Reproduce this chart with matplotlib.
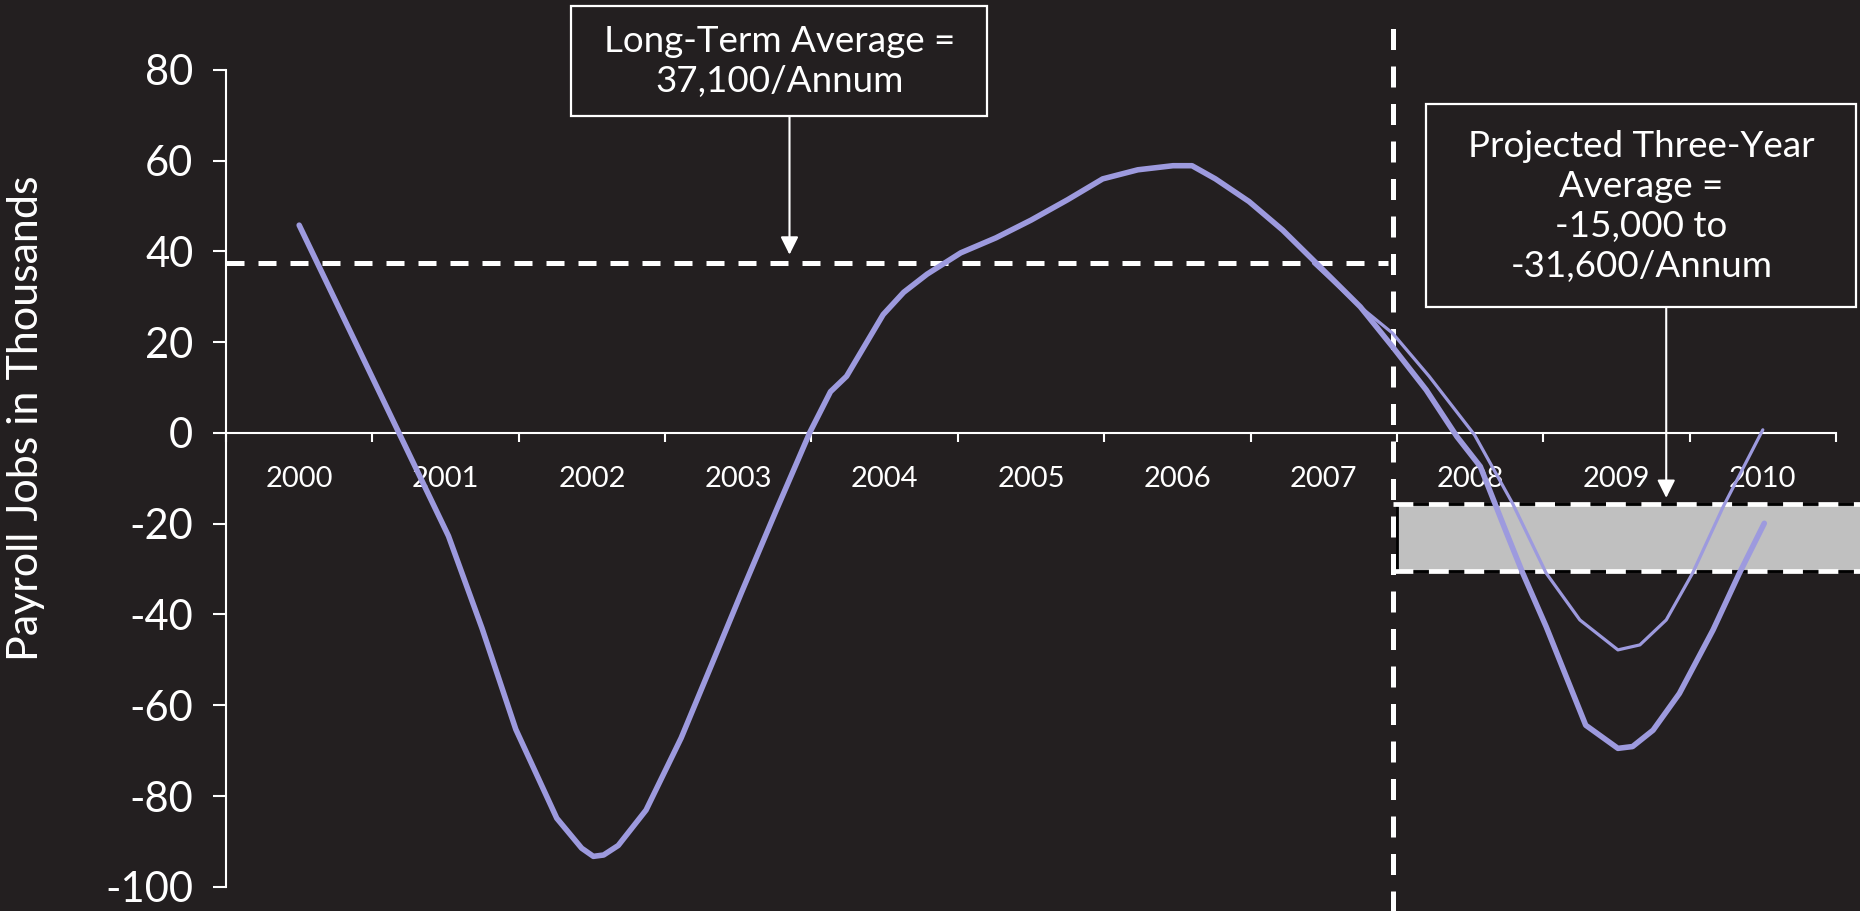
import matplotlib
matplotlib.use('Agg')
import matplotlib.pyplot as plt
from matplotlib import font_manager
from matplotlib.patches import Rectangle

# category labels on the x axis
years = ['2000', '2001', '2002', '2003', '2004', '2005', '2006', '2007', '2008', '2009', '2010']
year_pos = [2000, 2001, 2002, 2003, 2004, 2005, 2006, 2007, 2008, 2009, 2010]

# payroll job change (thousands)
hist_t = [2000.00, 2001.02, 2001.25, 2001.48, 2001.76, 2001.93, 2002.01, 2002.08, 2002.18,
          2002.37, 2002.61, 2002.82, 2003.02, 2003.26, 2003.49, 2003.63, 2003.74, 2003.99,
          2004.13, 2004.29, 2004.52, 2004.76, 2005.00, 2005.25, 2005.49, 2005.73, 2005.97,
          2006.10, 2006.26, 2006.49, 2006.72, 2006.95, 2007.25, 2007.47, 2007.70, 2007.91,
          2008.07, 2008.25, 2008.36, 2008.52, 2008.79, 2009.01, 2009.11, 2009.25, 2009.43,
          2009.66, 2009.84, 2010.01]
hist_v = [45.8, -22.7, -43.1, -65.3, -84.9, -91.5, -93.3, -93, -90.9,
          -83.1, -67.2, -50.9, -35.3, -17, 0.2, 9.1, 12.5, 26.1,
          31, 35, 39.7, 43, 46.9, 51.4, 56, 58, 58.9,
          58.9, 56, 51, 44.7, 37.4, 27.8, 19, 9.5, -0.8,
          -7.4, -22.1, -30.9, -42.7, -64.4, -69.5, -69.1, -65.5, -57.4,
          -43.4, -30.9, -19.9]

# alternative (milder) projection
proj_t = [2006.93, 2007.25, 2007.47, 2007.72, 2008.03, 2008.29, 2008.52, 2008.75, 2009.01,
          2009.16, 2009.34, 2009.52, 2009.73, 2010.00]
proj_v = [37.4, 27.8, 22, 12.5, -0.4, -15.5, -30.9, -41.2, -47.8,
          -46.7, -41.2, -30.9, -16.2, 0.7]

long_term_avg = 37.4
band_top = -15.6
band_bottom = -30.4
forecast_start = 2007.5

bg = '#231f20'
line_c = '#9d9ade'

names = {f.name for f in font_manager.fontManager.ttflist}
fam = 'Lato' if 'Lato' in names else 'DejaVu Sans'
plt.rcParams['font.family'] = [fam, 'DejaVu Sans']

fig = plt.figure(figsize=(18.6, 9.11), dpi=100, facecolor=bg)
ax = fig.add_axes([0.1215, 0.0266, 0.8656, 0.8966])
ax.set_facecolor(bg)

ax.set_xlim(1999.5, 2010.5)
ax.set_ylim(-100, 80)

for s in ['top', 'right']:
    ax.spines[s].set_visible(False)
ax.spines['bottom'].set_position(('data', 0))
for s in ['bottom', 'left']:
    ax.spines[s].set_color('white')
    ax.spines[s].set_linewidth(1.5)

ax.set_yticks(range(-100, 81, 20))
ax.set_yticklabels([str(v) for v in range(-100, 81, 20)], color='white', fontsize=30)
ax.tick_params(axis='y', colors='white', length=9.5, width=1.5, pad=14)

ax.set_xticks(year_pos)
ax.set_xticklabels(years, color='white', fontsize=21)
ax.set_xticks([y - 0.5 for y in year_pos] + [2010.5], minor=True)
ax.tick_params(axis='x', which='major', length=0, pad=24)
ax.tick_params(axis='x', which='minor', colors='white', length=6.5, width=1.5)

fig.text(0.014, 0.541, 'Payroll Jobs in Thousands', rotation=90, ha='center', va='center',
         color='white', fontsize=31)

# projected range band
ax.add_patch(Rectangle((forecast_start, band_bottom), 2010.7 - forecast_start, band_top - band_bottom,
                       facecolor='#c0c0c0', edgecolor='black', lw=2, clip_on=False, zorder=2))
for yv in [band_top, band_bottom]:
    ax.plot([forecast_start - 0.03, 2010.7], [yv, yv], color='white', lw=3.4, dashes=(4.2, 3.3),
            clip_on=False, zorder=3)

# long-term average and forecast divider
ax.plot([1999.5, 2007.44], [long_term_avg, long_term_avg], color='white', lw=3.6,
        dashes=(3.6, 2.8), zorder=3)
ax.plot([2007.47, 2007.47], [-106, 92.3], color='white', lw=3.6,
        dashes=(4.2, 3.3), clip_on=False, zorder=3)

ax.plot(proj_t, proj_v, color=line_c, lw=2.3, zorder=4, solid_capstyle='round')
ax.plot(hist_t, hist_v, color=line_c, lw=4, zorder=5, solid_capstyle='round')

# annotation boxes
ax.add_patch(Rectangle((2001.86, 69.9), 2004.70 - 2001.86, 94.1 - 69.9, facecolor=bg,
                       edgecolor='white', lw=1.6, clip_on=False, zorder=6))
ax.text(2003.28, 81.9, 'Long-Term Average =\n37,100/Annum', ha='center', va='center',
        color='white', fontsize=26.5, linespacing=1.25, clip_on=False, zorder=7)
ax.annotate('', xy=(2003.35, 39.3), xytext=(2003.35, 69.9), annotation_clip=False,
            arrowprops=dict(arrowstyle='-|>', color='white', lw=1.5, mutation_scale=27,
                            shrinkA=0, shrinkB=0))

ax.add_patch(Rectangle((2007.70, 27.8), 2010.64 - 2007.70, 72.5 - 27.8, facecolor=bg,
                       edgecolor='white', lw=1.6, clip_on=False, zorder=6))
ax.text(2009.17, 50.0, 'Projected Three-Year\nAverage =\n-15,000 to\n-31,600/Annum', ha='center',
        va='center', color='white', fontsize=26.5, linespacing=1.26, clip_on=False, zorder=7)
ax.annotate('', xy=(2009.34, -14.3), xytext=(2009.34, 27.8), annotation_clip=False,
            arrowprops=dict(arrowstyle='-|>', color='white', lw=1.5, mutation_scale=27,
                            shrinkA=0, shrinkB=0))

plt.savefig('out.png', dpi=100, facecolor=bg)
